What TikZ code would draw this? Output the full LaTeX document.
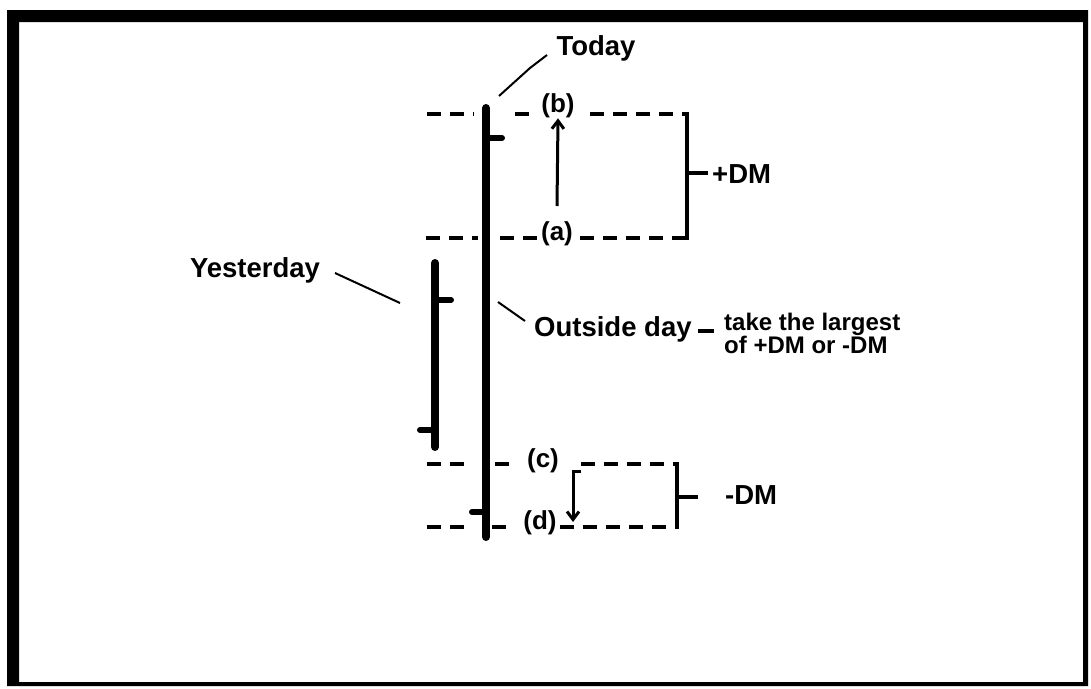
\documentclass[tikz,border=0pt]{standalone}
\usepackage{fontspec}
\setmainfont{Liberation Sans}
\usetikzlibrary{arrows.meta}
\begin{document}
\begin{tikzpicture}[x=1pt,y=-1pt,
  lbl/.style={font=\fontsize{27.5}{27.5}\selectfont\bfseries, inner sep=0pt},
  pt/.style={font=\fontsize{26}{26}\selectfont\bfseries, inner sep=0pt},
  small/.style={font=\fontsize{24}{24}\selectfont\bfseries, inner sep=0pt},
  bar/.style={line width=8pt, line cap=round},
  tick/.style={line width=6pt, line cap=round},
  level/.style={line width=4pt, dash pattern=on 14pt off 9pt},
  brk/.style={line width=4pt},
  lead/.style={line width=2pt},
  arr/.style={line width=3pt, -{Straight Barb[length=8pt,width=12pt]}}]
\useasboundingbox (0,0) rectangle (1091,688);
% frame
\fill[black, even odd rule] (7,10) rectangle (1088,686) (19,22) rectangle (1083,682);

% bars
\coordinate (tt) at (486,108); \coordinate (tb) at (486,537);
\coordinate (yt) at (435,263); \coordinate (yb) at (435,447);
\draw[bar] (tt) -- (tb);
\draw[bar] (yt) -- (yb);
\draw[tick] (486,138) -- (502,138);
\draw[tick] (472,512) -- (486,512);
\draw[tick] (435,300) -- (451,300);
\draw[tick] (420,430) -- (435,430);

% labels
\node[pt] (b) at (558,106) {(b)};
\node[pt] (a) at (557,234) {(a)};
\node[pt] (c) at (543,461) {(c)};
\node[pt] (d) at (540,523) {(d)};

% level lines
\draw[level] (427,114) -- (474,114);
\draw[level] (515,114) -- (531,114);
\draw[level] (590,114) -- (687,114);
\draw[level] (426,238) -- (478,238);
\draw[level] (500,238) -- (537,238);
\draw[level] (580,238) -- (687,238);
\draw[brk] (687,112) -- (687,240);
\draw[brk] (687,173) -- (708,173);

\draw[level] (427,464) -- (471,464);
\draw[level] (495,464) -- (511,464);
\draw[level] (581,464) -- (677,464);
\draw[level] (427,527) -- (472,527);
\draw[level] (492,527) -- (508,527);
\draw[level] (560,527) -- (677,527);
\draw[brk] (677,462) -- (677,529);
\draw[brk] (677,497) -- (698,497);

% arrows
\coordinate (as) at (557,206);
\draw[arr] (as) -- (b.south);
\coordinate (ds) at (581,471);
\draw[arr] (ds) -- (573,471) -- (573,522);

% texts
\node[lbl] (today) at (596,48) {Today};
\draw[lead] (499,96) -- (530,68) -- (547,55);
\node[lbl] (yest) at (255,270) {Yesterday};
\draw[lead] (335,273) -- (400,303);
\node[lbl, anchor=west] (out) at (534,329) {Outside day};
\draw[lead] (498,302) -- (525,321);
\draw[line width=4pt] (698,331) -- (714,331);
\node[small, anchor=west] (t1) at (724,324) {take the largest};
\node[small, anchor=west] (t2) at (724,345) {of +DM or -DM};
\node[lbl, anchor=west] (pdm) at (712,174) {+DM};
\node[lbl, anchor=west] (mdm) at (725,495) {-DM};
\end{tikzpicture}
\end{document}
